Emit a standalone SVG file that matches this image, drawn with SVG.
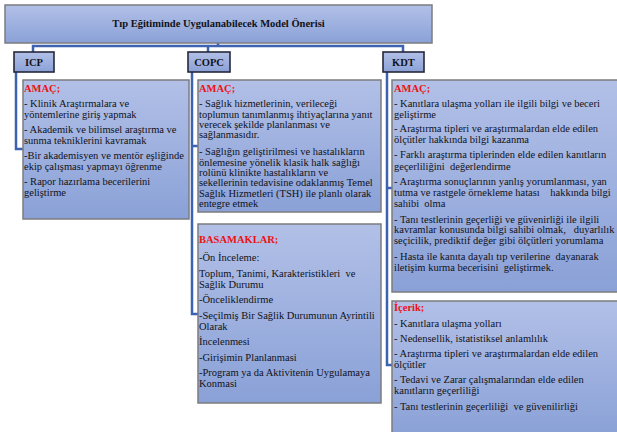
<svg xmlns="http://www.w3.org/2000/svg" width="617" height="432" viewBox="0 0 617 432">
<defs>
<linearGradient id="g" x1="0" y1="0" x2="0" y2="1">
<stop offset="0" stop-color="#b2c0e7"/>
<stop offset="1" stop-color="#8aa1d7"/>
</linearGradient>
<style>
.box{fill:url(#g);stroke:#7c7c80;stroke-width:1.5}
.lbl{fill:url(#g);stroke:#26283a;stroke-width:1.6}
.t{font-family:"Liberation Serif","Times New Roman",serif;font-size:10.5px;fill:#121219;white-space:pre}
.b{font-weight:bold}
.h{font-family:"Liberation Serif","Times New Roman",serif;font-size:10.5px;font-weight:bold;fill:#ee1111}
.c{fill:none;stroke:#3c62b2;stroke-width:2.5}
</style>
</defs>
<rect width="617" height="432" fill="#ffffff"/>
<g id="connectors">
<path class="c" d="M218 43V46M33 52V46H403V52M208 46V52"/>
<path class="c" d="M16 72V149H23"/>
<path class="c" d="M192 72V314H198M192 146H198"/>
<path class="c" d="M387 72V365H392M387 188H392"/>
</g>
<g id="title">
<rect class="box" x="5" y="5" width="427" height="38"/>
<text class="t b" x="218.5" y="27" text-anchor="middle">Tıp Eğitiminde Uygulanabilecek Model Önerisi</text>
</g>
<g id="icp">
<rect class="lbl" x="14" y="52" width="40" height="20"/>
<text class="t b" x="34" y="66" text-anchor="middle">ICP</text>
</g>
<g id="copc">
<rect class="lbl" x="188" y="52" width="42" height="20"/>
<text class="t b" x="209" y="66" text-anchor="middle">COPC</text>
</g>
<g id="kdt">
<rect class="lbl" x="383" y="52" width="41" height="20"/>
<text class="t b" x="403.5" y="66" text-anchor="middle">KDT</text>
</g>
<g id="icp-amac">
<rect class="box" x="23" y="80" width="166" height="139"/>
<text class="h" x="24" y="92">AMAÇ;</text>
<text class="t" x="24" y="107">- Klinik Araştırmalara ve</text>
<text class="t" x="24" y="118">yöntemlerine giriş yapmak</text>
<text class="t" x="24" y="133">- Akademik ve bilimsel araştırma ve</text>
<text class="t" x="24" y="144">sunma tekniklerini kavramak</text>
<text class="t" x="24" y="159">-Bir akademisyen ve mentör eşliğinde</text>
<text class="t" x="24" y="170">ekip çalışması yapmayı öğrenme</text>
<text class="t" x="24" y="185">- Rapor hazırlama becerilerini</text>
<text class="t" x="24" y="196">geliştirme</text>
</g>
<g id="copc-amac">
<rect class="box" x="198" y="80" width="183" height="132"/>
<text class="h" x="199" y="92">AMAÇ;</text>
<text class="t" x="199" y="107">- Sağlık hizmetlerinin, verileceği</text>
<text class="t" x="199" y="118">toplumun tanımlanmış ihtiyaçlarına yanıt</text>
<text class="t" x="199" y="128">verecek şekilde planlanması ve</text>
<text class="t" x="199" y="138">sağlanmasıdır.</text>
<text class="t" x="199" y="155">- Sağlığın geliştirilmesi ve hastalıkların</text>
<text class="t" x="199" y="166">önlemesine yönelik klasik halk sağlığı</text>
<text class="t" x="199" y="176">rolünü klinikte hastalıkların ve</text>
<text class="t" x="199" y="186">sekellerinin tedavisine odaklanmış Temel</text>
<text class="t" x="199" y="197">Sağlık Hizmetleri (TSH) ile planlı olarak</text>
<text class="t" x="199" y="207">entegre etmek</text>
</g>
<g id="copc-basamaklar">
<rect class="box" x="198" y="224" width="183" height="179"/>
<text class="h" x="199" y="243">BASAMAKLAR;</text>
<text class="t" x="199" y="261">-Ön İnceleme:</text>
<text class="t" x="199" y="277">Toplum, Tanimi, Karakteristikleri  ve</text>
<text class="t" x="199" y="288">Sağlik Durumu</text>
<text class="t" x="199" y="303">-Önceliklendirme</text>
<text class="t" x="199" y="319">-Seçilmiş Bir Sağlik Durumunun Ayrintili</text>
<text class="t" x="199" y="330">Olarak</text>
<text class="t" x="199" y="345">İncelenmesi</text>
<text class="t" x="199" y="361">-Girişimin Planlanmasi</text>
<text class="t" x="199" y="376">-Program ya da Aktivitenin Uygulamaya</text>
<text class="t" x="199" y="387">Konmasi</text>
</g>
<g id="kdt-amac">
<rect class="box" x="392" y="80" width="230" height="212"/>
<text class="h" x="394" y="92">AMAÇ;</text>
<text class="t" x="394" y="107">- Kanıtlara ulaşma yolları ile ilgili bilgi ve beceri</text>
<text class="t" x="394" y="118">geliştirme</text>
<text class="t" x="394" y="132">- Araştırma tipleri ve araştırmalardan elde edilen</text>
<text class="t" x="394" y="143">ölçütler hakkında bilgi kazanma</text>
<text class="t" x="394" y="158">- Farklı araştırma tiplerinden elde edilen kanıtların</text>
<text class="t" x="394" y="170">geçerliliğini  değerlendirme</text>
<text class="t" x="394" y="185">- Araştırma sonuçlarının yanlış yorumlanması, yan</text>
<text class="t" x="394" y="196">tutma ve rastgele örnekleme hatası    hakkında bilgi</text>
<text class="t" x="394" y="207">sahibi  olma</text>
<text class="t" x="394" y="223">- Tanı testlerinin geçerliği ve güvenirliği ile ilgili</text>
<text class="t" x="394" y="233">kavramlar konusunda bilgi sahibi olmak,   duyarlılık</text>
<text class="t" x="394" y="244">seçicilik, prediktif değer gibi ölçütleri yorumlama</text>
<text class="t" x="394" y="260">- Hasta ile kanıta dayalı tıp verilerine  dayanarak</text>
<text class="t" x="394" y="271">iletişim kurma becerisini  geliştirmek.</text>
</g>
<g id="kdt-icerik">
<rect class="box" x="392" y="301" width="230" height="135"/>
<text class="h" x="394" y="311">İçerik;</text>
<text class="t" x="394" y="327">- Kanıtlara ulaşma yolları</text>
<text class="t" x="394" y="342">- Nedensellik, istatistiksel anlamlılık</text>
<text class="t" x="394" y="357">- Araştırma tipleri ve araştırmalardan elde edilen</text>
<text class="t" x="394" y="368">ölçütler</text>
<text class="t" x="394" y="383">- Tedavi ve Zarar çalışmalarından elde edilen</text>
<text class="t" x="394" y="394">kanıtların geçerliliği</text>
<text class="t" x="394" y="410">- Tanı testlerinin geçerliliği  ve güvenilirliği</text>
</g>
</svg>
